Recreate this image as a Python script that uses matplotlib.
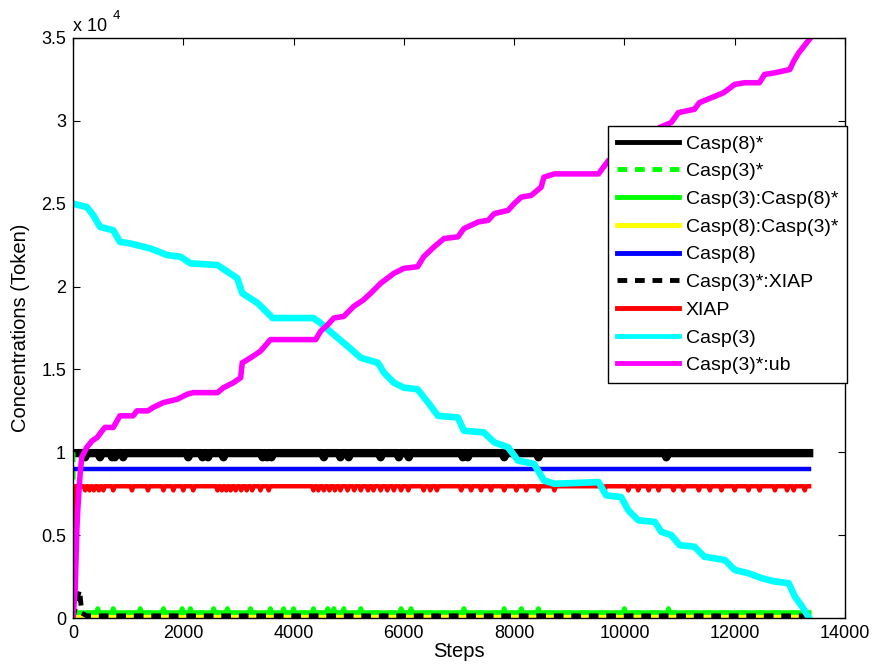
import matplotlib
matplotlib.use("Agg")
import matplotlib.pyplot as plt

plt.rcParams["font.family"] = ["Liberation Sans", "DejaVu Sans"]

# --- data (steps, token counts) ---
END_STEP = 13350

casp3_steps = [0, 250, 370, 490, 730, 850, 1040, 1400, 1710, 1950, 2130, 2620, 2800,
               2980, 3070, 3350, 3530, 3620, 4360, 4490, 4730, 4980, 5220, 5530, 5640,
               5820, 6000, 6250, 6440, 6620, 6980, 7090, 7450, 7640, 7890, 8070, 8360,
               8540, 8730, 9530, 9670, 9940, 10070, 10250, 10550, 10670, 10850, 11000,
               11270, 11450, 11820, 12000, 12250, 12490, 12730, 12980, 13090, 13220,
               13350]
casp3_vals = [25000, 24800, 24300, 23600, 23400, 22700, 22600, 22300, 21900, 21800,
              21400, 21300, 20900, 20500, 19600, 19000, 18400, 18100, 18100, 17800,
              17100, 16400, 15700, 15400, 14800, 14200, 13900, 13800, 13000, 12200,
              12100, 11300, 11200, 10600, 10300, 9500, 9300, 8300, 8100, 8200, 7400,
              7300, 6500, 5900, 5800, 5200, 5000, 4400, 4300, 3700, 3500, 2900, 2700,
              2400, 2200, 2100, 1300, 700, 0]

ub_steps = [0, 40, 70, 90, 130, 160, 250, 350, 440, 530, 580, 730, 800, 850, 1090,
            1160, 1360, 1450, 1640, 1890, 2070, 2180, 2620, 2730, 2910, 3040, 3070,
            3220, 3400, 3580, 4400, 4490, 4620, 4730, 4910, 5090, 5270, 5400, 5580,
            5820, 6000, 6250, 6360, 6550, 6730, 6980, 7090, 7350, 7530, 7640, 7890,
            8000, 8130, 8310, 8490, 8540, 8730, 9530, 9620, 9710, 10000, 10300, 10640,
            10850, 10980, 11270, 11360, 11580, 11800, 12000, 12180, 12450, 12540,
            12730, 13000, 13070, 13160, 13350]
ub_vals = [0, 1700, 5300, 6700, 8700, 9700, 10300, 10700, 10900, 11300, 11500, 11500,
           11900, 12200, 12200, 12500, 12500, 12700, 13000, 13200, 13500, 13600, 13600,
           13900, 14200, 14500, 15400, 15700, 16100, 16800, 16800, 17300, 17700, 18100,
           18200, 18800, 19200, 19600, 20200, 20800, 21100, 21200, 21800, 22400, 22900,
           23000, 23500, 23900, 24000, 24400, 24600, 25000, 25400, 25500, 26000, 26600,
           26800, 26800, 27200, 27600, 28200, 28900, 29600, 29900, 30500, 30700, 31100,
           31400, 31700, 32200, 32300, 32300, 32800, 32900, 33100, 33600, 34100, 34900]

casp8s_level = 9950
casp8s_dips = [220, 490, 710, 760, 910, 2090, 2350, 2450, 2730, 3440, 3520, 3600,
               4550, 4850, 5000, 5580, 5910, 6090, 7070, 7160, 7820, 8440, 10760]

xiap_level = 7950
xiap_dips = [220, 300, 380, 470, 550, 730, 1070, 1360, 1640, 1820, 2000, 2180, 2620,
             2700, 2780, 2860, 2950, 3050, 3150, 3250, 3400, 3550, 4360, 4450, 4550,
             4650, 4750, 4850, 4980, 5100, 5220, 5350, 5450, 5580, 5700, 5820, 5950,
             6080, 6360, 6480, 6600, 7040, 7220, 7400, 7580, 7820, 8040, 8220, 8440,
             8730, 9640, 10070, 10250, 10440, 10620, 10890, 11070, 11350, 11550, 11760,
             12000, 12250, 12450, 12730, 12950, 13070, 13270]

casp8_level = 9000

c3c8_level = 320
c3c8_bumps = [450, 730, 1220, 1640, 1980, 2130, 2550, 2800, 3220, 3580, 3820, 4000,
              4360, 4620, 4730, 4910, 5220, 5950, 6130, 7090, 7820, 8130, 8440, 10000,
              10800]

casp3s_steps = [0, 20, 40, END_STEP]
casp3s_vals = [10000, 3000, 300, 300]

xiapc_steps = [0, 80, 120, 160, 250, END_STEP]
xiapc_vals = [0, 1200, 1700, 300, 130, 130]


def with_dips(level, dips, depth, start=(0, None)):
    xs, ys = [], []
    if start[1] is not None:
        xs.append(start[0])
        ys.append(start[1])
    xs.append(30)
    ys.append(level)
    for d in dips:
        xs += [d - 25, d, d + 25]
        ys += [level, level + depth, level]
    xs.append(END_STEP)
    ys.append(level)
    return xs, ys


fig = plt.figure(figsize=(8.76, 6.70), dpi=100)
ax = fig.add_axes([0.0833, 0.0776, 0.8813, 0.8657])

x, y = with_dips(casp8s_level, casp8s_dips, -250, start=(0, 9950))
ax.plot(x, y, color="black", lw=6, label="Casp(8)*")
ax.plot(casp3s_steps, casp3s_vals, color="#00ff00", lw=3.5, ls=(0, (2, 1.6)),
        label="Casp(3)*")
x, y = with_dips(c3c8_level, c3c8_bumps, 250, start=(0, 0))
ax.plot(x, y, color="#00ff00", lw=3.5, label="Casp(3):Casp(8)*")
ax.plot([0, END_STEP], [0, 0], color="#ffff00", lw=4.5, label="Casp(8):Casp(3)*")
ax.plot([0, END_STEP], [casp8_level, casp8_level], color="#0000ff", lw=3.2,
        label="Casp(8)")
ax.plot(xiapc_steps, xiapc_vals, color="black", lw=3.5, ls=(0, (2, 1.6)),
        label="Casp(3)*:XIAP")
x, y = with_dips(xiap_level, xiap_dips, -250, start=(0, 0))
ax.plot(x, y, color="#ff0000", lw=3.2, label="XIAP")
ax.plot(casp3_steps, casp3_vals, color="#00ffff", lw=4.8, label="Casp(3)")
ax.plot(ub_steps, ub_vals, color="#ff00ff", lw=4.0, label="Casp(3)*:ub")

ax.set_xlim(0, 14000)
ax.set_ylim(0, 35000)
ax.set_xticks(range(0, 14001, 2000))
ax.set_yticks(range(0, 35001, 5000))
ax.set_yticklabels(["0", "0.5", "1", "1.5", "2", "2.5", "3", "3.5"])
ax.tick_params(direction="in", length=5, width=0.8, top=True, right=True,
               labelsize=13, pad=5)
for s in ax.spines.values():
    s.set_linewidth(1.0)

ax.set_xlabel("Steps", fontsize=14.5, labelpad=0)
ax.set_ylabel("Concentrations (Token)", fontsize=14.5, labelpad=8)

ax.text(0.0, 1.006, "x 10", transform=ax.transAxes, fontsize=13, ha="left",
        va="bottom")
ax.text(0.052, 1.027, "4", transform=ax.transAxes, fontsize=9.5, ha="left",
        va="bottom")

leg = ax.legend(loc="upper right", bbox_to_anchor=(1.0026, 0.848), borderaxespad=0,
                fontsize=14, handlelength=3.2, handletextpad=0.35,
                labelspacing=0.52, borderpad=0.45, fancybox=False, framealpha=1)
leg.get_frame().set_edgecolor("black")
leg.get_frame().set_linewidth(1.0)
for ln in leg.get_lines():
    ln.set_linewidth(3.5)

fig.savefig("out.png", dpi=100)
